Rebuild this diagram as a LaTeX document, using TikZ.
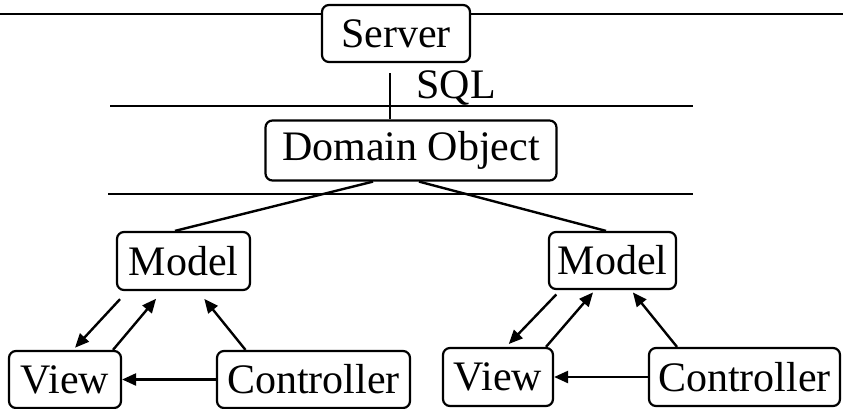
\documentclass[tikz,border=0pt]{standalone}
\usepackage{fontspec}
\setmainfont{Liberation Serif}
\usetikzlibrary{arrows.meta}
\begin{document}
\begin{tikzpicture}[x=1pt,y=-1pt,
  box/.style={draw,line width=2.2pt,rounded corners=7pt,fill=white,inner sep=0pt,
    font=\fontsize{42}{48}\selectfont},
  rule/.style={line width=2.6pt},
  link/.style={line width=2.4pt},
  arr/.style={link,-{Triangle[length=14pt,width=12pt]}}]
\useasboundingbox[fill=white] (0,0) rectangle (843,409);

% layer separators
\draw[rule] (0,14) -- (843,14);
\draw[rule] (110,106) -- (693,106);
\draw[rule] (108,194) -- (693,194);

% boxes
\node[box,minimum width=148pt,minimum height=57pt] (server) at (396,33.5) {Server};
\node[box,minimum width=291pt,minimum height=60pt] (domain) at (411,150.5) {Domain Object};
\node[box,minimum width=133pt,minimum height=58pt] (modelL) at (183.5,261) {Model};
\node[box,minimum width=127pt,minimum height=57pt] (modelR) at (612.5,260.5) {Model};
\node[box,minimum width=112pt,minimum height=57pt] (viewL) at (65,379.5) {View};
\node[box,minimum width=193pt,minimum height=57pt] (ctrlL) at (313.5,379.5) {Controller};
\node[box,minimum width=110pt,minimum height=58pt] (viewR) at (498,377) {View};
\node[box,minimum width=191pt,minimum height=58pt] (ctrlR) at (744.5,377) {Controller};

% SQL link
\node[font=\fontsize{42}{48}\selectfont,inner sep=0pt] (sql) at (456,88) {SQL};
\draw[link,shorten <=10pt] ([xshift=-6pt]server.south) -- ([xshift=-21pt]domain.north);

% domain object to models
\draw[link] ([xshift=-38pt]domain.south) -- ([xshift=-8.5pt]modelL.north);
\draw[link] ([xshift=8pt]domain.south) -- ([xshift=-6.5pt]modelR.north);

% left MVC triad
\draw[arr,shorten <=11pt,shorten >=3pt] ([xshift=-56pt]modelL.south) -- ([xshift=8pt]viewL.north);
\draw[arr,shorten >=10pt] ([xshift=48pt]viewL.north) -- ([xshift=-21pt]modelL.south);
\draw[arr,shorten >=10pt] ([xshift=-68pt]ctrlL.north) -- ([xshift=14.5pt]modelL.south);
\draw[arr] (ctrlL.west) -- (viewL.east);

% right MVC triad
\draw[arr,shorten <=6pt,shorten >=4pt] ([xshift=-52pt]modelR.south) -- ([xshift=8pt]viewR.north);
\draw[arr,shorten >=3pt] ([xshift=48pt]viewR.north) -- ([xshift=-17.5pt]modelR.south);
\draw[arr,shorten >=3pt] ([xshift=-67.5pt]ctrlR.north) -- ([xshift=18.5pt]modelR.south);
\draw[arr] (ctrlR.west) -- (viewR.east);
\end{tikzpicture}
\end{document}
